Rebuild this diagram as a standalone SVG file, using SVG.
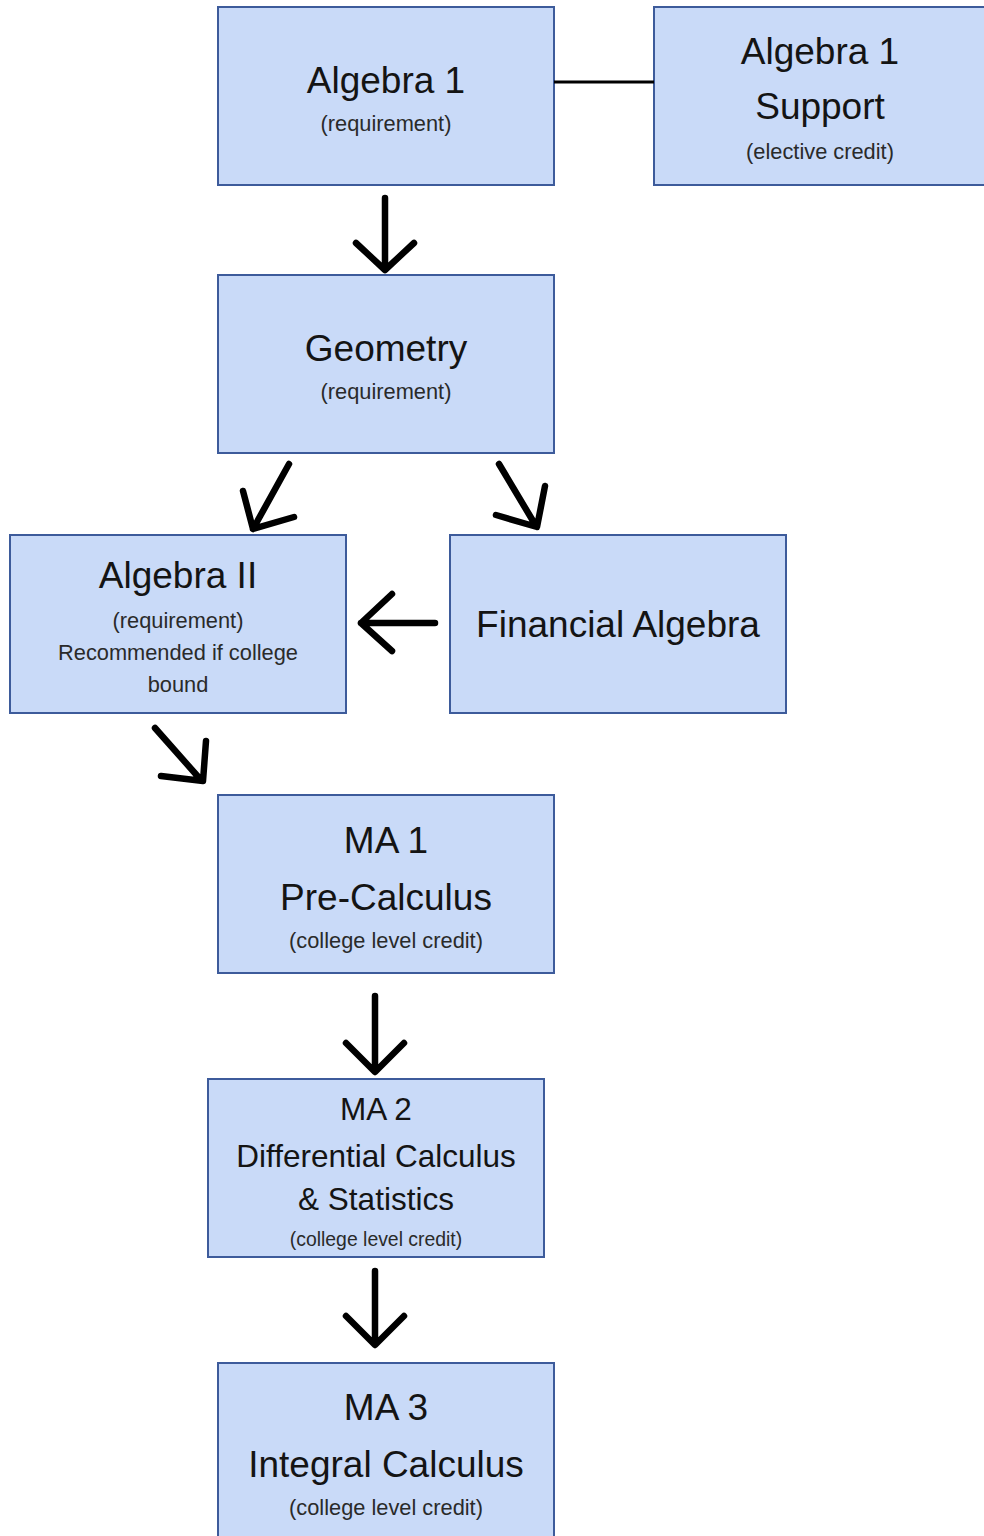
<svg xmlns="http://www.w3.org/2000/svg" width="984" height="1536" viewBox="0 0 984 1536">
<style>
.box{fill:#c9daf8;stroke:#3d5b9b;stroke-width:2}
.t{font-family:"Liberation Sans",Arial,sans-serif;font-size:37px;fill:#141414;text-anchor:middle}
.m{font-family:"Liberation Sans",Arial,sans-serif;font-size:31.5px;fill:#141414;text-anchor:middle}
.s{font-family:"Liberation Sans",Arial,sans-serif;font-size:21.8px;fill:#2a2a2a;text-anchor:middle}
.s2{font-family:"Liberation Sans",Arial,sans-serif;font-size:19.4px;fill:#2a2a2a;text-anchor:middle}
.arr{fill:none;stroke:#000;stroke-width:6.5;stroke-linecap:round;stroke-linejoin:round}
.ln{fill:none;stroke:#000;stroke-width:3}
</style>
<rect width="984" height="1536" fill="#fff"/>
<g id="alg1">
<rect class="box" x="218" y="7" width="336" height="178"/>
<text class="t" x="386" y="93">Algebra 1</text>
<text class="s" x="386" y="131">(requirement)</text>
</g>
<g id="alg1support">
<rect class="box" x="654" y="7" width="340" height="178"/>
<text class="t" x="820" y="64">Algebra 1</text>
<text class="t" x="820" y="119">Support</text>
<text class="s" x="820" y="159">(elective credit)</text>
</g>
<g id="geometry">
<rect class="box" x="218" y="275" width="336" height="178"/>
<text class="t" x="386" y="361">Geometry</text>
<text class="s" x="386" y="399">(requirement)</text>
</g>
<g id="alg2">
<rect class="box" x="10" y="535" width="336" height="178"/>
<text class="t" x="178" y="588">Algebra II</text>
<text class="s" x="178" y="628">(requirement)</text>
<text class="s" x="178" y="660">Recommended if college</text>
<text class="s" x="178" y="692">bound</text>
</g>
<g id="finalg">
<rect class="box" x="450" y="535" width="336" height="178"/>
<text class="t" x="618" y="637">Financial Algebra</text>
</g>
<g id="ma1">
<rect class="box" x="218" y="795" width="336" height="178"/>
<text class="t" x="386" y="853">MA 1</text>
<text class="t" x="386" y="910">Pre-Calculus</text>
<text class="s" x="386" y="948">(college level credit)</text>
</g>
<g id="ma2">
<rect class="box" x="208" y="1079" width="336" height="178"/>
<text class="m" x="376" y="1120">MA 2</text>
<text class="m" x="376" y="1167">Differential Calculus</text>
<text class="m" x="376" y="1210">&amp; Statistics</text>
<text class="s2" x="376" y="1246">(college level credit)</text>
</g>
<g id="ma3">
<rect class="box" x="218" y="1363" width="336" height="190"/>
<text class="t" x="386" y="1420">MA 3</text>
<text class="t" x="386" y="1477">Integral Calculus</text>
<text class="s" x="386" y="1515">(college level credit)</text>
</g>
<g id="connectors">
<line class="ln" x1="554" y1="82" x2="654" y2="82"/>
<path class="arr" d="M385 198 L385 269 M356 243 L385 270 L414 243"/>
<path class="arr" d="M289 464 L253 529 M243 491 L253 529 L294 517"/>
<path class="arr" d="M499 464 L536 526 M545 486 L537 527 L496 515"/>
<path class="arr" d="M435 623 L361 623 M392 594 L361 623 L392 651"/>
<path class="arr" d="M155 728 L201 780 M206 741 L203 781 L161 776"/>
<path class="arr" d="M375 996 L375 1071 M346 1043 L375 1072 L404 1043"/>
<path class="arr" d="M375 1271 L375 1344 M346 1316 L375 1345 L404 1316"/>
</g>
</svg>
